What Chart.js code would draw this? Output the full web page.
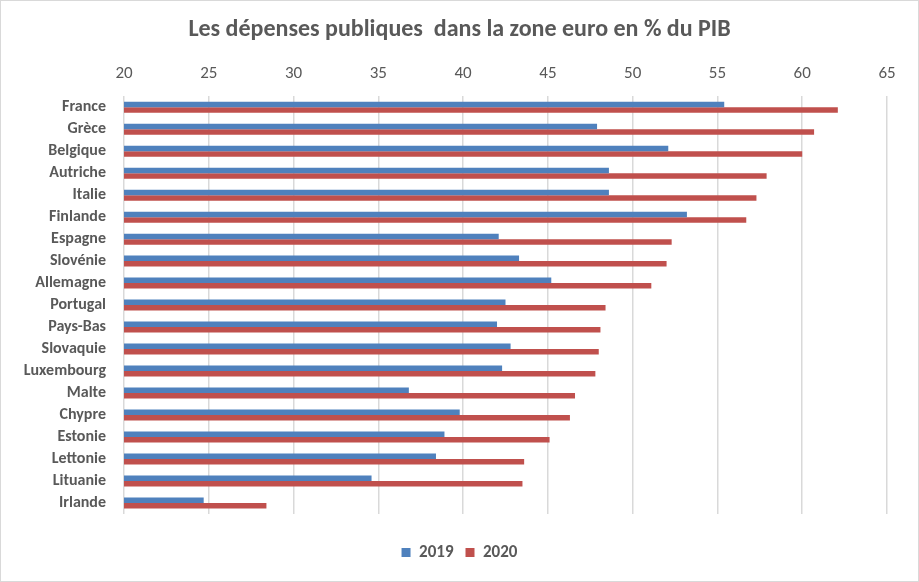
<!DOCTYPE html>
<html>
<head>
<meta charset="utf-8">
<script src="https://cdn.jsdelivr.net/npm/chart.js@4/dist/chart.umd.min.js"></script>
<style>
    html, body { margin: 0; padding: 0; background: #fff; }
    #wrap { position: relative; width: 917px; height: 580px; border: 1px solid #d9d9d9; }
</style>
</head>
<body>
<div id="wrap"><canvas id="depenses"></canvas></div>
<script>
const pays = ["France", "Grèce", "Belgique", "Autriche", "Italie", "Finlande", "Espagne", "Slovénie",
    "Allemagne", "Portugal", "Pays-Bas", "Slovaquie", "Luxembourg", "Malte", "Chypre", "Estonie",
    "Lettonie", "Lituanie", "Irlande"]
const dep2019 = [55.4, 47.9, 52.1, 48.6, 48.6, 53.2, 42.1, 43.3, 45.2, 42.5, 42.0, 42.8, 42.3, 36.8, 39.8, 38.9, 38.4, 34.6, 24.7]
const dep2020 = [62.1, 60.7, 60.0, 57.9, 57.3, 56.7, 52.3, 52.0, 51.1, 48.4, 48.1, 48.0, 47.8, 46.6, 46.3, 45.1, 43.6, 43.5, 28.4]
const xMin = 20, xMax = 65, xStep = 5

const police = 'Carlito, "Liberation Sans Narrow", "Open Sans", sans-serif'
const gris = '#595959'

Chart.defaults.font.family = police
Chart.defaults.color = gris

const ctx = document.getElementById("depenses").getContext("2d")
new Chart(ctx, {
    type: "bar",
    data: {
        labels: pays,
        datasets: [
            { label: "2019", data: dep2019, backgroundColor: '#4F81BD' },
            { label: "2020", data: dep2020, backgroundColor: '#C0504D' }
        ]
    },
    options: {
        indexAxis: 'y',
        responsive: true,
        maintainAspectRatio: false,
        animation: false,
        datasets: { bar: { categoryPercentage: 0.5, barPercentage: 1.0 } },
        layout: { padding: { left: 6, right: 6, top: 5, bottom: 10 } },
        scales: {
            x: {
                position: 'top',
                min: xMin,
                max: xMax,
                ticks: { stepSize: xStep, padding: 12, font: { size: 17 }, color: gris },
                grid: { color: '#d9d9d9', lineWidth: 1.5, drawTicks: false },
                border: { display: false }
            },
            y: {
                // largeur fixe pour caler la zone de tracé à gauche
                afterFit: s => { s.width = 117 },
                ticks: { autoSkip: false, padding: 10, font: { size: 16, weight: 'bold' }, color: gris },
                grid: { display: false },
                border: { display: false }
            },
            // axe vide à droite : marge, titre et légende restent centrés sur la page
            marge: {
                type: 'linear',
                axis: 'y',
                position: 'right',
                afterFit: s => { s.width = 25 },
                ticks: { display: false },
                grid: { display: false },
                border: { display: false }
            }
        },
        plugins: {
            title: {
                display: true,
                text: "Les dépenses publiques  dans la zone euro en % du PIB",
                font: { size: 24, weight: 'bold' },
                color: gris,
                padding: { top: 10, bottom: 7 }
            },
            legend: {
                position: 'bottom',
                // titre vide : juste de l'espace au-dessus des items
                title: { display: true, text: ' ', font: { size: 10 }, padding: { top: 3, bottom: 3 } },
                labels: { boxWidth: 9, boxHeight: 9, font: { size: 17, weight: 'bold' }, color: gris, padding: 12 }
            },
            tooltip: { enabled: false }
        }
    }
})
</script>
</body>
</html>
